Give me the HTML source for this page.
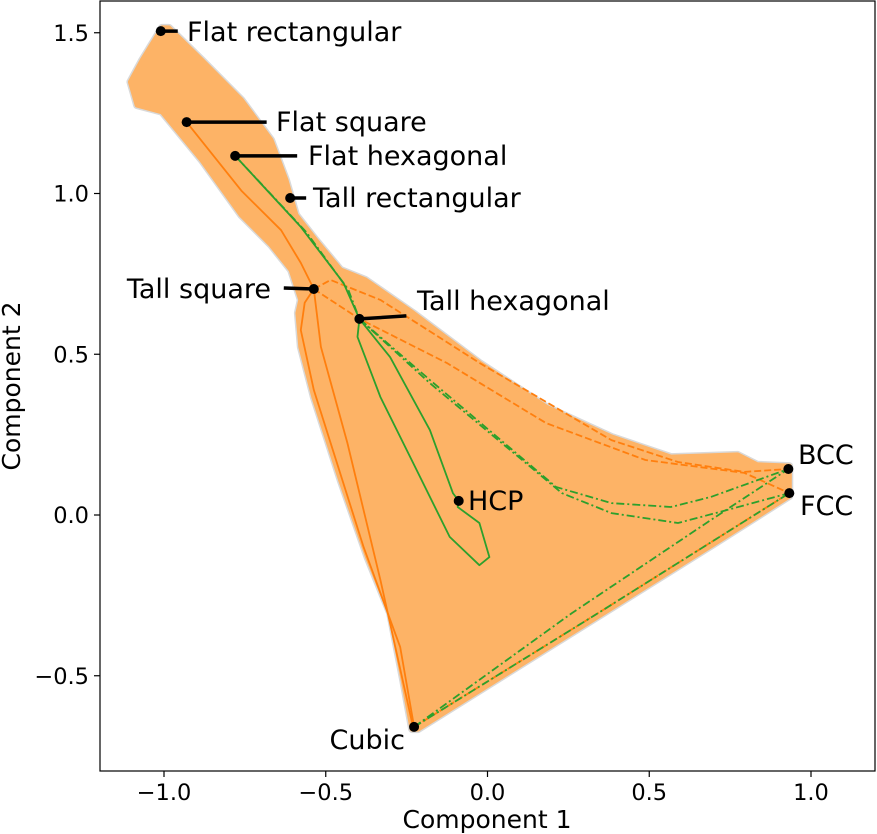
<!DOCTYPE html>
<html><head><meta charset="utf-8"><style>
body{margin:0;background:#fff;}
svg{display:block;font-family:"DejaVu Sans","Liberation Sans",sans-serif;}
</style></head><body>
<svg id="chart" width="877" height="834"></svg>
<script>
// Axis ticks
const xTicks=[-1.0,-0.5,0.0,0.5,1.0];
const xTickLabels=["\u22121.0","\u22120.5","0.0","0.5","1.0"];
const yTicks=[-0.5,0.0,0.5,1.0,1.5];
const yTickLabels=["\u22120.5","0.0","0.5","1.0","1.5"];
// Region outline (data coords)
const regionX=[-1.006,-1.067,-1.104,-1.083,-1.006,-0.883,-0.761,-0.669,-0.607,-0.577,-0.586,-0.577,-0.537,-0.454,-0.371,-0.301,-0.261,-0.233,-0.215,0.35,0.70,0.933,0.933,0.834,0.773,0.567,0.383,0.181,-0.025,-0.230,-0.377,-0.454,-0.531,-0.592,-0.623,-0.669,-0.761,-0.883,-0.985];
const regionY=[1.515,1.415,1.347,1.275,1.254,1.104,0.933,0.840,0.762,0.669,0.628,0.523,0.367,0.109,-0.131,-0.305,-0.513,-0.666,-0.666,-0.31,-0.09,0.059,0.152,0.156,0.187,0.180,0.243,0.336,0.473,0.628,0.731,0.762,0.855,0.933,1.042,1.166,1.291,1.415,1.515];
// Named points
const ptNames=["Flat rectangular","Flat square","Flat hexagonal","Tall rectangular","Tall square","Tall hexagonal","HCP","BCC","FCC","Cubic"];
const ptX=[-1.01,-0.93,-0.78,-0.61,-0.537,-0.396,-0.089,0.93,0.933,-0.227];
const ptY=[1.505,1.222,1.117,0.986,0.703,0.61,0.044,0.143,0.068,-0.659];
// Paths
const orange1X=[-0.93,-0.761,-0.638,-0.577,-0.537,-0.515,-0.433,-0.331,-0.233,-0.227];
const orange1Y=[1.222,1.009,0.886,0.784,0.703,0.523,0.224,-0.202,-0.646,-0.659];
const orange2X=[-0.537,-0.565,-0.577,-0.537,-0.383,-0.270,-0.227];
const orange2Y=[0.703,0.66,0.575,0.389,-0.100,-0.411,-0.659];
const greenSX=[-0.78,-0.577,-0.445,-0.396,-0.402,-0.331,-0.230,-0.117,-0.025,0.006,-0.025,-0.092,-0.089];
const greenSY=[1.117,0.896,0.722,0.61,0.554,0.367,0.162,-0.068,-0.156,-0.131,-0.025,0.025,0.044];
const greenS2X=[-0.089,-0.107,-0.178,-0.301,-0.396];
const greenS2Y=[0.044,0.068,0.264,0.491,0.61];
const greenD1X=[-0.78,-0.56,-0.43,-0.396,-0.178,0.212,0.383,0.567,0.690,0.93];
const greenD1Y=[1.117,0.88,0.70,0.61,0.420,0.087,0.037,0.025,0.056,0.143];
const greenD2X=[-0.396,-0.178,0.230,0.383,0.589,0.742,0.933];
const greenD2Y=[0.61,0.41,0.068,0.006,-0.025,0.016,0.068];
const greenD3X=[-0.227,0.35,0.933];
const greenD3Y=[-0.659,-0.30,0.068];
const greenD4X=[-0.227,0.261,0.690,0.93];
const greenD4Y=[-0.659,-0.305,-0.016,0.143];
const orangeD1X=[-0.537,-0.485,-0.331,-0.025,0.383,0.589,0.794,0.93];
const orangeD1Y=[0.703,0.731,0.669,0.473,0.233,0.165,0.134,0.143];
const orangeD2X=[-0.537,-0.396,-0.126,0.181,0.488,0.794,0.933];
const orangeD2Y=[0.703,0.61,0.473,0.286,0.171,0.131,0.068];
const orangeD3X=[-0.227,0.35,0.933];
const orangeD3Y=[-0.659,-0.30,0.068];
const svg=document.getElementById('chart');
const NS="http://www.w3.org/2000/svg";
const L=100,R=875,T=1,B=771;
const sx=v=>487.5+v*323.5;
const sy=v=>515-v*321.5;
function mk(tag,attrs,parent){const e=document.createElementNS(NS,tag);for(const k in attrs)e.setAttribute(k,attrs[k]);(parent||svg).appendChild(e);return e;}
function pts(xs,ys){return xs.map((x,i)=>sx(x).toFixed(1)+","+sy(ys[i]).toFixed(1)).join(" ");}
let reg=mk('polygon',{points:pts(regionX,regionY),fill:'#d9d9d9',stroke:'#d9d9d9','stroke-width':8,'stroke-linejoin':'round'});


let reg2=mk('polygon',{points:pts(regionX,regionY),fill:'#fdb366',stroke:'#fdb366','stroke-width':5,'stroke-linejoin':'round'});


function line(xs,ys,color,dash,name){const p=mk('polyline',{points:pts(xs,ys),fill:'none',stroke:color,'stroke-width':1.8,'stroke-dasharray':dash||'none','stroke-linejoin':'round'});

}
line(orange1X,orange1Y,'#ff7f0e','','orange-path-square-cubic');
line(orange2X,orange2Y,'#ff7f0e','','orange-path-edge');
line(orangeD1X,orangeD1Y,'#ff7f0e','7,3','orange-dashed-top');
line(orangeD2X,orangeD2Y,'#ff7f0e','7,3','orange-dashed-mid');
line(orangeD3X,orangeD3Y,'#ff7f0e','7,3','orange-dashed-bottom');
line(greenSX,greenSY,'#2ca02c','','green-path-hcp');
line(greenS2X,greenS2Y,'#2ca02c','','green-path-hcp-2');
line(greenD1X,greenD1Y,'#2ca02c','8,3,2,3','green-dashdot-bcc');
line(greenD2X,greenD2Y,'#2ca02c','8,3,2,3','green-dashdot-fcc');
line(greenD3X,greenD3Y,'#2ca02c','8,3,2,3','green-dashdot-cubic-fcc');
line(greenD4X,greenD4Y,'#2ca02c','8,3,2,3','green-dashdot-cubic-bcc');
const leaders=[[17,0],[80,0],[62,0],[16,0],[-30,-1],[47,-3],null,null,null,null];
const lab=[[187,31,'start'],[276,121,'start'],[308,155,'start'],[313,197,'start'],[271,288,'end'],[417,300,'start'],[468,500,'start'],[798,454,'start'],[800,505,'start'],[405,739,'end']];
ptNames.forEach((n,i)=>{const x=sx(ptX[i]),y=sy(ptY[i]);
if(leaders[i]){const l=mk('line',{x1:x,y1:y,x2:x+leaders[i][0],y2:y+leaders[i][1],stroke:'#000','stroke-width':3.5});

}
const c=mk('circle',{cx:x,cy:y,r:5,fill:'#000'});


const t=mk('text',{x:lab[i][0],y:lab[i][1]+10,'font-size':27,'text-anchor':lab[i][2],fill:'#000'});t.textContent=n;

});
const fr=mk('rect',{x:L,y:T,width:R-L,height:B-T,fill:'none',stroke:'#000','stroke-width':1.2});


xTicks.forEach((v,i)=>{const x=sx(v);mk('line',{x1:x,y1:B,x2:x,y2:B+6,stroke:'#000','stroke-width':1.2});
const t=mk('text',{x:x,y:B+29,'font-size':22.5,'text-anchor':'middle'});t.textContent=xTickLabels[i];

});
yTicks.forEach((v,i)=>{const y=sy(v);mk('line',{x1:L-6,y1:y,x2:L,y2:y,stroke:'#000','stroke-width':1.2});
const t=mk('text',{x:L-11,y:y+8,'font-size':22.5,'text-anchor':'end'});t.textContent=yTickLabels[i];

});
const xt=mk('text',{x:487,y:828,'font-size':25,'text-anchor':'middle'});xt.textContent='Component 1';


const yt=mk('text',{x:0,y:0,'font-size':25,'text-anchor':'middle',transform:'translate(20,386) rotate(-90)'});yt.textContent='Component 2';


</script>
</body></html>
